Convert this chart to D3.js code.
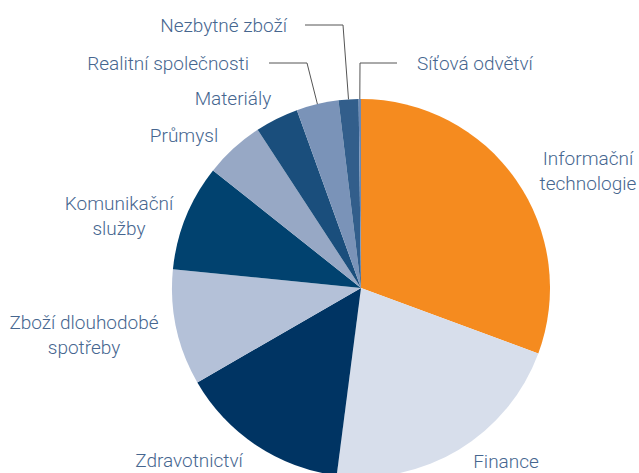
<!DOCTYPE html>
<html>
<head>
<meta charset="utf-8">
<script src="https://cdn.jsdelivr.net/npm/d3@7"></script>
<style>
  html, body { margin: 0; padding: 0; background: #fff; }
  svg { display: block; }
  text { font-family: Roboto, "Liberation Sans", sans-serif; font-weight: 300; }
</style>
</head>
<body>
<svg id="chart" width="639" height="473"></svg>
<script>
// ---- data ----
const categories = [
  "Informační technologie", "Finance", "Zdravotnictví", "Zboží dlouhodobé spotřeby",
  "Komunikační služby", "Průmysl", "Materiály", "Realitní společnosti",
  "Nezbytné zboží", "Síťová odvětví"
];
const values = [30.6, 21.4, 14.6, 9.9, 9.1, 5.1, 3.7, 3.6, 1.7, 0.2];
const colors = [
  "#F58B1F", "#D7DEEB", "#003463", "#B4C1D8",
  "#01426F", "#97A8C5", "#1A4E7C", "#7A93B8",
  "#325E8B", "#6C8AB5"
];
// label lines (how each category name wraps)
const labelLines = [
  ["Informační", "technologie"], ["Finance"], ["Zdravotnictví"], ["Zboží dlouhodobé", "spotřeby"],
  ["Komunikační", "služby"], ["Průmysl"], ["Materiály"], ["Realitní společnosti"],
  ["Nezbytné zboží"], ["Síťová odvětví"]
];

// ---- layout ----
const W = 639, H = 473;
const cx = 361, cy = 288, R = 189;
// label anchor: [x, y, anchor]; leader: [startX, kinkX] or null
const labelLayout = [
  [588, 158, "middle"], [506, 461, "middle"], [189, 460, "middle"], [84, 322, "middle"],
  [119, 203, "middle"], [184, 135, "middle"], [233, 98, "middle"], [249, 63, "end"],
  [287, 25, "end"], [417, 63, "start"]
];
const leaders = [null, null, null, null, null, null, null, [269, 307], [305, 343], [397, 360]];
const lineGap = 25;

const svg = d3.select("#chart");
const g = svg.append("g").attr("transform", `translate(${cx},${cy})`);

const pie = d3.pie().sort(null).value(d => d)(values);
const arc = d3.arc().innerRadius(0).outerRadius(R);
const edgeArc = d3.arc().innerRadius(R).outerRadius(R);

g.selectAll("path.slice")
  .data(pie)
  .join("path")
  .attr("class", "slice")
  .attr("d", arc)
  .attr("fill", (d, i) => colors[i]);

// leader lines
pie.forEach((d, i) => {
  const ld = leaders[i];
  if (!ld) return;
  const [px, py] = edgeArc.centroid(d);
  const y = labelLayout[i][1];
  const pts = [[ld[0], y], [ld[1], y], [cx + px, cy + py]];
  svg.append("path")
    .attr("d", d3.line()(pts))
    .attr("fill", "none")
    .attr("stroke", "#555")
    .attr("stroke-width", 1);
});

// labels
categories.forEach((c, i) => {
  const [x, y, anchor] = labelLayout[i];
  const t = svg.append("text")
    .attr("x", x).attr("y", y)
    .attr("text-anchor", anchor)
    .attr("fill", "#46668F")
    .attr("font-size", 19);
  labelLines[i].forEach((ln, k) => {
    t.append("tspan").attr("x", x).attr("dy", k === 0 ? "0.35em" : lineGap).text(ln);
  });
});
</script>
</body>
</html>
